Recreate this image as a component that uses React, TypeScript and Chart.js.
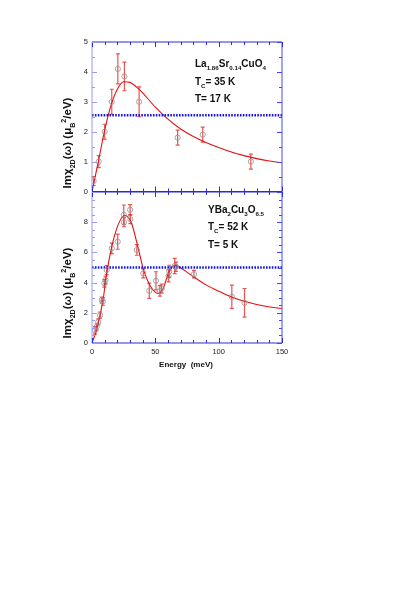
import React, { useEffect, useRef } from 'react';
import { Chart, registerables } from 'chart.js';
Chart.register(...registerables);

// ---------- data ----------
const energyMin = 0;
const energyMax = 150;
const energyTickStep = 50;

// La1.86Sr0.14CuO4 (top panel)
const laEnergy = [1.3, 5.3, 10, 15.6, 20.4, 25.6, 37.2, 67.6, 87.4, 125.4];
const laValue = [0.35, 1.0, 2.0, 3.0, 4.1, 3.85, 3.0, 1.8, 1.9, 1.0];
const laError = [0.15, 0.2, 0.25, 0.42, 0.5, 0.48, 0.5, 0.25, 0.25, 0.25];
const laFitEnergy = [0, 2, 5, 10, 15, 20, 25, 30, 35, 40, 50, 60, 70, 80, 90, 100, 110, 120, 130, 140, 150];
const laFitValue = [0, 0.4, 1.0, 2.05, 2.88, 3.42, 3.67, 3.65, 3.5, 3.3, 2.82, 2.42, 2.09, 1.84, 1.64, 1.47, 1.32, 1.2, 1.1, 1.02, 0.96];
const laLevel = 2.55;
const laYMax = 5;

// YBa2Cu3O6.5 (bottom panel)
const ybEnergy = [2.4, 3.7, 5.0, 6.4, 7.7, 8.6, 9.8, 10.6, 11.6, 15.6, 20.3, 25.1, 25.3, 30.1, 30.3, 35.4, 40.5, 45.2, 50.5, 53.6, 55.0, 60.5, 61.0, 65.3, 66.3, 80.5, 110.4, 120.4];
const ybValue = [0.84, 1.06, 1.4, 1.84, 2.84, 2.75, 3.95, 4.17, 4.83, 6.27, 6.71, 8.49, 8.0, 8.82, 8.2, 6.16, 4.61, 3.46, 4.12, 3.45, 3.6, 4.45, 4.75, 5.1, 5.05, 4.56, 3.06, 2.66];
const ybError = [0.25, 0.2, 0.2, 0.2, 0.2, 0.25, 0.25, 0.25, 0.3, 0.35, 0.5, 0.65, 0.3, 0.35, 0.3, 0.35, 0.3, 0.5, 0.6, 0.35, 0.3, 0.4, 0.4, 0.5, 0.3, 0.25, 0.77, 0.95];
const ybFitEnergy = [0, 3.5, 8.7, 11.4, 15.3, 20.6, 25.9, 31.2, 36.5, 40.4, 45.7, 52.3, 56.2, 60.2, 65.5, 72, 80, 90, 101, 110, 122.3, 135, 150];
const ybFitValue = [0, 0.84, 2.84, 4.5, 6.27, 7.82, 8.46, 7.93, 6.27, 4.94, 3.83, 3.28, 3.61, 4.6, 5.16, 4.87, 4.39, 3.85, 3.39, 3.05, 2.72, 2.47, 2.28];
const ybLevel = 5.0;
const ybYMax = 10;

// ---------- text ----------
type Seg = [string, number]; // 0 normal, 1 sub, 2 sup
const yTitle: Seg[] = [['Im\u03c7', 0], ['2D', 1], ['(\u03c9) (\u03bc', 0], ['B', 1], ['2', 2], ['/eV)', 0]];
const laLabel: Seg[][] = [
  [['La', 0], ['1.86', 1], ['Sr', 0], ['0.14', 1], ['CuO', 0], ['4', 1]],
  [['T', 0], ['C', 1], ['= 35 K', 0]],
  [['T= 17 K', 0]],
];
const ybLabel: Seg[][] = [
  [['YBa', 0], ['2', 1], ['Cu', 0], ['3', 1], ['O', 0], ['6.5', 1]],
  [['T', 0], ['C', 1], ['= 52 K', 0]],
  [['T= 5 K', 0]],
];
const xTitle = 'Energy  (meV)';

const FAMILY = '"Liberation Sans", Arial, sans-serif';

function richWidth(ctx: CanvasRenderingContext2D, segs: Seg[], size: number) {
  let w = 0;
  for (const [t, k] of segs) {
    const s = k === 0 ? size : size * 0.62;
    ctx.font = `bold ${s}px ${FAMILY}`;
    w += ctx.measureText(t).width;
  }
  return w;
}
function drawRich(ctx: CanvasRenderingContext2D, x: number, y: number, segs: Seg[], size: number) {
  let cx = x;
  for (const [t, k] of segs) {
    const s = k === 0 ? size : size * 0.62;
    ctx.font = `bold ${s}px ${FAMILY}`;
    const dy = k === 1 ? size * 0.32 : k === 2 ? -size * 0.42 : 0;
    ctx.fillText(t, cx, y + dy);
    cx += ctx.measureText(t).width;
  }
}

const decorPlugin = {
  id: 'decor',
  beforeDatasetsDraw(chart: any) {
    const { ctx, scales } = chart;
    const xs = scales.x, ys = scales.y;
    ctx.save();
    chart.data.datasets.forEach((ds: any) => {
      if (!ds.errors) return;
      ctx.strokeStyle = 'rgba(228,40,40,0.8)';
      ctx.lineWidth = 1.2;
      ds.data.forEach((p: any, i: number) => {
        const e = ds.errors[i];
        const px = xs.getPixelForValue(p.x);
        const y1 = ys.getPixelForValue(p.y - e);
        const y2 = ys.getPixelForValue(p.y + e);
        ctx.beginPath();
        ctx.moveTo(px, y1); ctx.lineTo(px, y2);
        ctx.moveTo(px - 2, y1); ctx.lineTo(px + 2, y1);
        ctx.moveTo(px - 2, y2); ctx.lineTo(px + 2, y2);
        ctx.stroke();
      });
    });
    ctx.restore();
  },
  afterDraw(chart: any, _a: any, o: any) {
    const { ctx, chartArea: a, scales } = chart;
    const xs = scales.x, ys = scales.y;
    ctx.save();
    // frame
    ctx.lineWidth = 1;
    ctx.strokeStyle = '#2a2ad8';
    ctx.beginPath();
    ctx.moveTo(a.left, a.top); ctx.lineTo(a.right, a.top);
    ctx.moveTo(a.left, a.bottom); ctx.lineTo(a.right, a.bottom);
    ctx.stroke();
    ctx.strokeStyle = '#4848f0';
    ctx.beginPath();
    ctx.moveTo(a.right, a.top); ctx.lineTo(a.right, a.bottom);
    ctx.stroke();
    ctx.strokeStyle = '#9a9af6';
    ctx.beginPath();
    ctx.moveTo(a.left, a.top); ctx.lineTo(a.left, a.bottom);
    ctx.stroke();
    // x ticks
    const xMinor = o.xMinor, xMajor = o.xMajor;
    ctx.strokeStyle = '#2a2ad8';
    ctx.beginPath();
    for (let v = xs.min; v <= xs.max + 1e-9; v += xMinor) {
      const px = Math.round(xs.getPixelForValue(v)) + 0.5;
      const isMajor = Math.abs(v / xMajor - Math.round(v / xMajor)) < 1e-6;
      const L = isMajor ? 5 : 3;
      ctx.moveTo(px, a.bottom); ctx.lineTo(px, a.bottom - L);
      ctx.moveTo(px, a.top); ctx.lineTo(px, a.top + L);
    }
    ctx.stroke();
    // y ticks
    const yMinor = o.yMinor, yMajor = o.yMajor;
    for (let v = ys.min; v <= ys.max + 1e-9; v += yMinor) {
      const py = Math.round(ys.getPixelForValue(v)) + 0.5;
      const isMajor = Math.abs(v / yMajor - Math.round(v / yMajor)) < 1e-6;
      const L = isMajor ? 5 : 3;
      ctx.strokeStyle = '#9a9af6';
      ctx.beginPath(); ctx.moveTo(a.left, py); ctx.lineTo(a.left + L, py); ctx.stroke();
      ctx.strokeStyle = '#4848f0';
      ctx.beginPath(); ctx.moveTo(a.right, py); ctx.lineTo(a.right - L, py); ctx.stroke();
    }
    // y title
    ctx.fillStyle = '#111';
    ctx.textBaseline = 'alphabetic';
    ctx.textAlign = 'left';
    const tSize = o.titleSize;
    const tw = richWidth(ctx, yTitle, tSize);
    ctx.save();
    ctx.translate(o.titleX, o.titleY);
    ctx.rotate(-Math.PI / 2);
    drawRich(ctx, -tw / 2, tSize * 0.35, yTitle, tSize);
    ctx.restore();
    // annotation
    o.label.forEach((line: Seg[], i: number) => {
      drawRich(ctx, o.labelX, o.labelY[i], line, o.labelSize);
    });
    // x title
    if (o.xTitle) {
      ctx.font = `bold 8px ${FAMILY}`;
      ctx.textAlign = 'center';
      ctx.fillText(o.xTitle, (a.left + a.right) / 2 - 1, o.xTitleY);
    }
    ctx.restore();
  },
};

function toPts(xs: number[], ys: number[]) {
  return xs.map((x, i) => ({ x, y: ys[i] }));
}

function makeConfig(p: any) {
  return {
    type: 'scatter',
    data: {
      datasets: [
        {
          type: 'line',
          data: toPts(p.fitE, p.fitV),
          borderColor: '#e41010',
          borderWidth: 1.1,
          pointRadius: 0,
          cubicInterpolationMode: 'monotone',
          fill: false,
          order: 3,
        },
        {
          type: 'line',
          data: [{ x: energyMin, y: p.level }, { x: energyMax, y: p.level }],
          borderColor: '#1414e0',
          borderWidth: 2.6,
          borderDash: [1.6, 1.3],
          borderCapStyle: 'butt',
          pointRadius: 0,
          fill: false,
          order: 2,
        },
        {
          type: 'scatter',
          data: toPts(p.e, p.v),
          errors: p.err,
          pointRadius: 2.6,
          pointBorderColor: 'rgba(150,150,150,0.85)',
          pointBackgroundColor: 'rgba(0,0,0,0)',
          pointBorderWidth: 1,
          order: 1,
        },
      ],
    },
    options: {
      animation: false,
      responsive: false,
      maintainAspectRatio: false,
      layout: { padding: { left: 0, top: 42, right: 127, bottom: p.padBottom } },
      plugins: {
        legend: { display: false },
        tooltip: { enabled: false },
        decor: p.decor,
      },
      scales: {
        x: {
          type: 'linear',
          min: energyMin,
          max: energyMax,
          ticks: {
            display: p.showX,
            stepSize: energyTickStep,
            padding: 4,
            color: '#222',
            font: { size: 7.5, family: FAMILY },
          },
          grid: { display: false, drawTicks: false },
          border: { display: false },
          afterFit: (s: any) => { s.height = p.xHeight; },
        },
        y: {
          type: 'linear',
          min: 0,
          max: p.yMax,
          ticks: {
            stepSize: p.yStep,
            padding: 4,
            color: '#222',
            font: { size: 7.5, family: FAMILY },
            callback: (v: number) => (v === p.hideTick ? '' : String(v)),
          },
          grid: { display: false, drawTicks: false },
          border: { display: false },
          afterFit: (s: any) => { s.width = 92; },
        },
      },
    },
    plugins: [decorPlugin],
  } as any;
}

function Panel(props: { top: number; height: number; cfg: any }) {
  const ref = useRef<HTMLCanvasElement>(null);
  useEffect(() => {
    const c = new Chart(ref.current as HTMLCanvasElement, props.cfg);
    return () => c.destroy();
  }, []);
  return (
    <canvas
      ref={ref}
      width={409}
      height={props.height}
      style={{ position: 'absolute', left: 0, top: props.top, width: 409, height: props.height }}
    />
  );
}

export default function App() {
  const topCfg = makeConfig({
    fitE: laFitEnergy, fitV: laFitValue, level: laLevel,
    e: laEnergy, v: laValue, err: laError,
    yMax: laYMax, yStep: 1, hideTick: null, showX: false,
    xHeight: 8, padBottom: 0,
    decor: {
      xMinor: 10, xMajor: 50, yMinor: 0.5, yMajor: 1,
      titleSize: 11.5, titleX: 67, titleY: 143,
      label: laLabel, labelX: 195, labelY: [67, 84.5, 102], labelSize: 10,
    },
  });
  const botCfg = makeConfig({
    fitE: ybFitEnergy, fitV: ybFitValue, level: ybLevel,
    e: ybEnergy, v: ybValue, err: ybError,
    yMax: ybYMax, yStep: 2, hideTick: 10, showX: true,
    xHeight: 25, padBottom: 32,
    decor: {
      xMinor: 10, xMajor: 50, yMinor: 0.5, yMajor: 2,
      titleSize: 11.5, titleX: 67, titleY: 143,
      label: ybLabel, labelX: 208, labelY: [63, 80, 97.5], labelSize: 10,
      xTitle: xTitle, xTitleY: 217,
    },
  });
  return (
    <div style={{ position: 'fixed', left: 0, top: 0, width: 409, height: 599, background: '#fff' }}>
      <Panel top={0} height={200} cfg={topCfg} />
      <Panel top={150} height={250} cfg={botCfg} />
    </div>
  );
}
